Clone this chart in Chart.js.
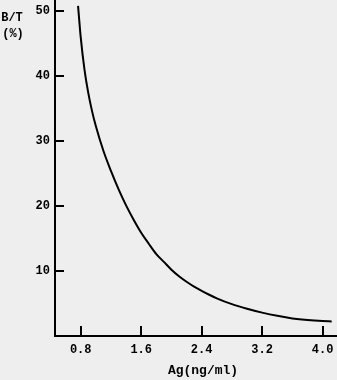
<!DOCTYPE html>
<html>
<head>
<meta charset="utf-8">
<script src="https://cdn.jsdelivr.net/npm/chart.js@4/dist/chart.umd.min.js"></script>
<style>
  html, body { margin: 0; padding: 0; background: #eeeeee; }
  #wrap { width: 337px; height: 380px; }
</style>
</head>
<body>
<div id="wrap"><canvas id="c" width="337" height="380"></canvas></div>
<script>
// Concentration Ag (ng/ml)
const agValues = [0.765, 0.80, 0.85, 0.90, 0.95, 1.00, 1.10, 1.20, 1.30, 1.40, 1.50, 1.60, 1.70, 1.80, 1.90, 2.00, 2.10, 2.20, 2.30, 2.40, 2.50, 2.60, 2.80, 3.00, 3.20, 3.40, 3.60, 3.80, 4.00, 4.12];
// B/T (%)
const btValues = [50.8, 46.0, 41.0, 37.4, 34.6, 32.3, 28.5, 25.4, 22.6, 20.1, 17.9, 15.9, 14.2, 12.6, 11.4, 10.2, 9.2, 8.35, 7.6, 6.95, 6.35, 5.8, 4.9, 4.2, 3.6, 3.1, 2.7, 2.45, 2.3, 2.25];
const xTickValues = [0.8, 1.6, 2.4, 3.2, 4.0];
const yTickValues = [10, 20, 30, 40, 50];
const xTitle = 'Ag(ng/ml)';
const yTitleLines = ['B/T', '(%)'];

const points = agValues.map((x, i) => ({ x: x, y: btValues[i] }));
const FONT = "'Liberation Mono', 'DejaVu Sans Mono', monospace";

const innerTicks = {
  id: 'innerTicks',
  afterDraw(chart) {
    const ctx = chart.ctx;
    const xs = chart.scales.x, ys = chart.scales.y;
    const area = chart.chartArea;
    ctx.save();
    ctx.strokeStyle = '#000';
    ctx.lineWidth = 2;
    ctx.beginPath();
    xs.ticks.forEach(t => {
      const px = Math.round(xs.getPixelForValue(t.value));
      ctx.moveTo(px, area.bottom);
      ctx.lineTo(px, area.bottom - 10);
    });
    ys.ticks.forEach(t => {
      const py = Math.round(ys.getPixelForValue(t.value));
      ctx.moveTo(area.left, py);
      ctx.lineTo(area.left + 9, py);
    });
    ctx.stroke();
    ctx.fillStyle = '#000';
    ctx.textAlign = 'center';
    ctx.textBaseline = 'middle';
    // y-axis title at top-left
    ctx.font = "bold 12px " + FONT;
    ctx.fillText(yTitleLines[0], 12, 18);
    ctx.fillText(yTitleLines[1], 13, 34);
    // x-axis title
    ctx.font = "bold 13px " + FONT;
    ctx.fillText(xTitle, 203, 371);
    ctx.restore();
  }
};

new Chart(document.getElementById('c'), {
  type: 'scatter',
  data: {
    datasets: [{
      data: points,
      showLine: true,
      borderColor: '#000',
      borderWidth: 2,
      pointRadius: 0,
      cubicInterpolationMode: 'monotone',
      clip: false
    }]
  },
  options: {
    responsive: false,
    animation: false,
    devicePixelRatio: 1,
    layout: { padding: 0 },
    plugins: { legend: { display: false }, tooltip: { enabled: false } },
    scales: {
      x: {
        type: 'linear',
        min: 0.46,
        max: 4.19,
        afterBuildTicks: s => { s.ticks = xTickValues.map(v => ({ value: v })); },
        afterFit: s => { s.height = 44; s.paddingLeft = 0; s.paddingRight = 0; },
        grid: { display: false, drawTicks: false },
        border: { display: true, color: '#000', width: 2 },
        ticks: {
          color: '#000',
          padding: 7,
          font: { family: FONT, size: 12, weight: 'bold' },
          callback: v => Number(v).toFixed(1),
          maxRotation: 0, autoSkip: false
        }
      },
      y: {
        type: 'linear',
        min: 0,
        max: 51.7,
        afterBuildTicks: s => { s.ticks = yTickValues.map(v => ({ value: v })); },
        afterFit: s => { s.width = 55; s.paddingTop = 0; s.paddingBottom = 0; },
        grid: { display: false, drawTicks: false },
        border: { display: true, color: '#000', width: 2 },
        ticks: {
          color: '#000',
          padding: 5,
          font: { family: FONT, size: 12, weight: 'bold' },
          autoSkip: false
        }
      }
    }
  },
  plugins: [innerTicks]
});
</script>
</body>
</html>
